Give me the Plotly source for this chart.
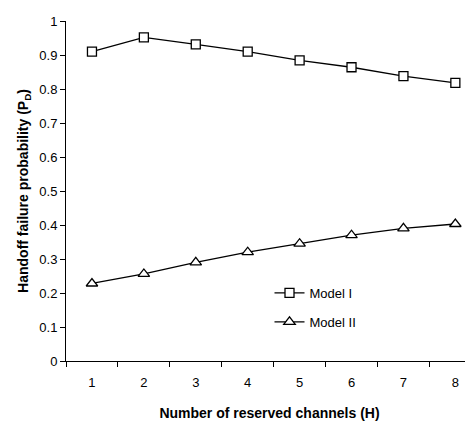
import plotly.graph_objects as go

channels = ["1", "2", "3", "4", "5", "6", "7", "8"]
model_1 = [0.910, 0.952, 0.931, 0.910, 0.884, 0.864, 0.838, 0.818]
model_2 = [0.228, 0.256, 0.290, 0.320, 0.345, 0.370, 0.390, 0.403]
y_ticks = [0, 0.1, 0.2, 0.3, 0.4, 0.5, 0.6, 0.7, 0.8, 0.9, 1]
y_tick_text = ["0", "0.1", "0.2", "0.3", "0.4", "0.5", "0.6", "0.7", "0.8", "0.9", "1"]

font = "Liberation Sans, Arial, sans-serif"

fig = go.Figure()
fig.add_trace(go.Scatter(
    x=channels, y=model_1, name="Model I", mode="lines+markers",
    line=dict(color="black", width=1.3), legend="legend",
    marker=dict(symbol="square", size=9, color="white", line=dict(color="black", width=1.3)),
))
fig.add_trace(go.Scatter(
    x=channels, y=model_2, name="Model II", mode="lines+markers",
    line=dict(color="black", width=1.3), legend="legend2",
    marker=dict(symbol="triangle-up", size=10, color="white", line=dict(color="black", width=1.3)),
))

leg_common = dict(xanchor="left", yanchor="middle", bgcolor="rgba(0,0,0,0)",
                  font=dict(size=13, family=font), itemwidth=30)

fig.update_layout(
    width=465, height=415,
    margin=dict(l=58, r=0, t=13, b=62),
    paper_bgcolor="white", plot_bgcolor="white",
    font=dict(family=font, size=13, color="black"),
    showlegend=True,
    legend=dict(x=0.50, y=0.2, **leg_common),
    legend2=dict(x=0.50, y=0.115, **leg_common),
    xaxis=dict(
        type="category", range=[-0.5, 7.34], automargin=False,
        showline=True, linecolor="black", linewidth=1,
        ticks="outside", ticklen=5, tickcolor="black", tickson="boundaries",
        showgrid=False, zeroline=False,
        tickfont=dict(size=13), ticklabelstandoff=9,
        title=dict(text="<b>Number of reserved channels (H)</b>", font=dict(size=14), standoff=19),
    ),
    yaxis=dict(
        range=[0, 1], tickvals=y_ticks, ticktext=y_tick_text, automargin=False,
        showline=True, linecolor="black", linewidth=1,
        ticks="outside", ticklen=5, tickcolor="black",
        showgrid=False, zeroline=False,
        tickfont=dict(size=13),
        title=dict(text="<b>Handoff failure probability (P<sub>D</sub>)</b>", font=dict(size=14), standoff=7),
    ),
)

fig.write_html("out.html")
